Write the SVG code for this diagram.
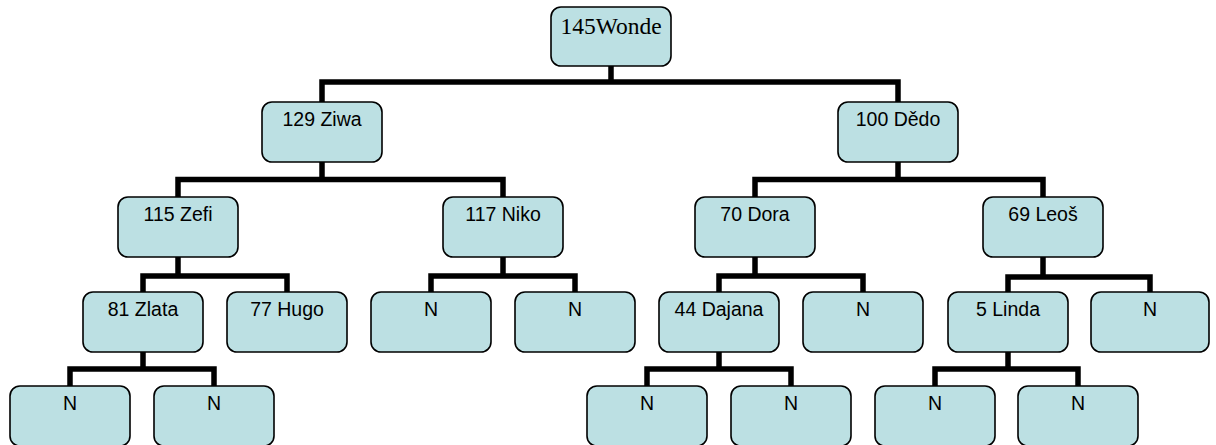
<svg xmlns="http://www.w3.org/2000/svg" width="1216" height="445" viewBox="0 0 1216 445">
  <style>
    .box { fill: #bce0e3; stroke: #000; stroke-width: 1.6; }
    .lbl { font-family: "Liberation Sans", Arial, sans-serif; font-size: 19.5px; fill: #000; text-anchor: middle; }
    .root { font-family: "Liberation Serif", "Times New Roman", serif; font-size: 23.5px; fill: #000; text-anchor: middle; }
    .edge { fill: none; stroke: #000; stroke-width: 5.5; stroke-linejoin: miter; stroke-linecap: butt; }
  </style>
  <rect width="1216" height="445" fill="#fff"/>

  <!-- tree connectors: parent stem down to a bar, drops to each child -->
  <g id="connectors">
    <path class="edge" d="M611 66 V82 M322 102 V82 H898 V102"/>
    <path class="edge" d="M322 162 V179.5 M178 197 V179.5 H503 V197"/>
    <path class="edge" d="M898 162 V179.5 M755 197 V179.5 H1043 V197"/>
    <path class="edge" d="M178 257 V276 M143 292 V276 H287 V292"/>
    <path class="edge" d="M503 257 V276 M431 292 V276 H575 V292"/>
    <path class="edge" d="M755 257 V276 M719 292 V276 H863 V292"/>
    <path class="edge" d="M1043 257 V277 M1008 292 V277 H1150 V292"/>
    <path class="edge" d="M143 352 V369 M70 386 V369 H214 V386"/>
    <path class="edge" d="M719 352 V369 M647 386 V369 H791 V386"/>
    <path class="edge" d="M1008 352 V369 M935 386 V369 H1078 V386"/>
  </g>

  <g id="n-145">
    <rect class="box" x="551" y="7" width="120" height="59" rx="10"/>
    <text class="root" x="611" y="34">145Wonde</text>
  </g>
  <g id="n-129">
    <rect class="box" x="262" y="102" width="120" height="60" rx="10"/>
    <text class="lbl" x="322" y="126">129 Ziwa</text>
  </g>
  <g id="n-100">
    <rect class="box" x="838" y="102" width="120" height="60" rx="10"/>
    <text class="lbl" x="898" y="126">100 Dědo</text>
  </g>
  <g id="n-115">
    <rect class="box" x="118" y="197" width="120" height="60" rx="10"/>
    <text class="lbl" x="178" y="221">115 Zefi</text>
  </g>
  <g id="n-117">
    <rect class="box" x="443" y="197" width="120" height="60" rx="10"/>
    <text class="lbl" x="503" y="221">117 Niko</text>
  </g>
  <g id="n-70">
    <rect class="box" x="695" y="197" width="120" height="60" rx="10"/>
    <text class="lbl" x="755" y="221">70 Dora</text>
  </g>
  <g id="n-69">
    <rect class="box" x="983" y="197" width="120" height="60" rx="10"/>
    <text class="lbl" x="1043" y="221">69 Leoš</text>
  </g>
  <g id="n-81">
    <rect class="box" x="83" y="292" width="120" height="60" rx="10"/>
    <text class="lbl" x="143" y="316">81 Zlata</text>
  </g>
  <g id="n-77">
    <rect class="box" x="227" y="292" width="120" height="60" rx="10"/>
    <text class="lbl" x="287" y="316">77 Hugo</text>
  </g>
  <g id="n-117-l">
    <rect class="box" x="371" y="292" width="120" height="60" rx="10"/>
    <text class="lbl" x="431" y="316">N</text>
  </g>
  <g id="n-117-r">
    <rect class="box" x="515" y="292" width="120" height="60" rx="10"/>
    <text class="lbl" x="575" y="316">N</text>
  </g>
  <g id="n-44">
    <rect class="box" x="659" y="292" width="120" height="60" rx="10"/>
    <text class="lbl" x="719" y="316">44 Dajana</text>
  </g>
  <g id="n-70-r">
    <rect class="box" x="803" y="292" width="120" height="60" rx="10"/>
    <text class="lbl" x="863" y="316">N</text>
  </g>
  <g id="n-5">
    <rect class="box" x="948" y="292" width="120" height="60" rx="10"/>
    <text class="lbl" x="1008" y="316">5 Linda</text>
  </g>
  <g id="n-69-r">
    <rect class="box" x="1091" y="292" width="118" height="60" rx="10"/>
    <text class="lbl" x="1150" y="316">N</text>
  </g>
  <g id="n-81-l">
    <rect class="box" x="10" y="386" width="120" height="60" rx="10"/>
    <text class="lbl" x="70" y="410">N</text>
  </g>
  <g id="n-81-r">
    <rect class="box" x="154" y="386" width="120" height="60" rx="10"/>
    <text class="lbl" x="214" y="410">N</text>
  </g>
  <g id="n-44-l">
    <rect class="box" x="587" y="386" width="120" height="60" rx="10"/>
    <text class="lbl" x="647" y="410">N</text>
  </g>
  <g id="n-44-r">
    <rect class="box" x="731" y="386" width="120" height="60" rx="10"/>
    <text class="lbl" x="791" y="410">N</text>
  </g>
  <g id="n-5-l">
    <rect class="box" x="875" y="386" width="120" height="60" rx="10"/>
    <text class="lbl" x="935" y="410">N</text>
  </g>
  <g id="n-5-r">
    <rect class="box" x="1018" y="386" width="120" height="60" rx="10"/>
    <text class="lbl" x="1078" y="410">N</text>
  </g>
</svg>
